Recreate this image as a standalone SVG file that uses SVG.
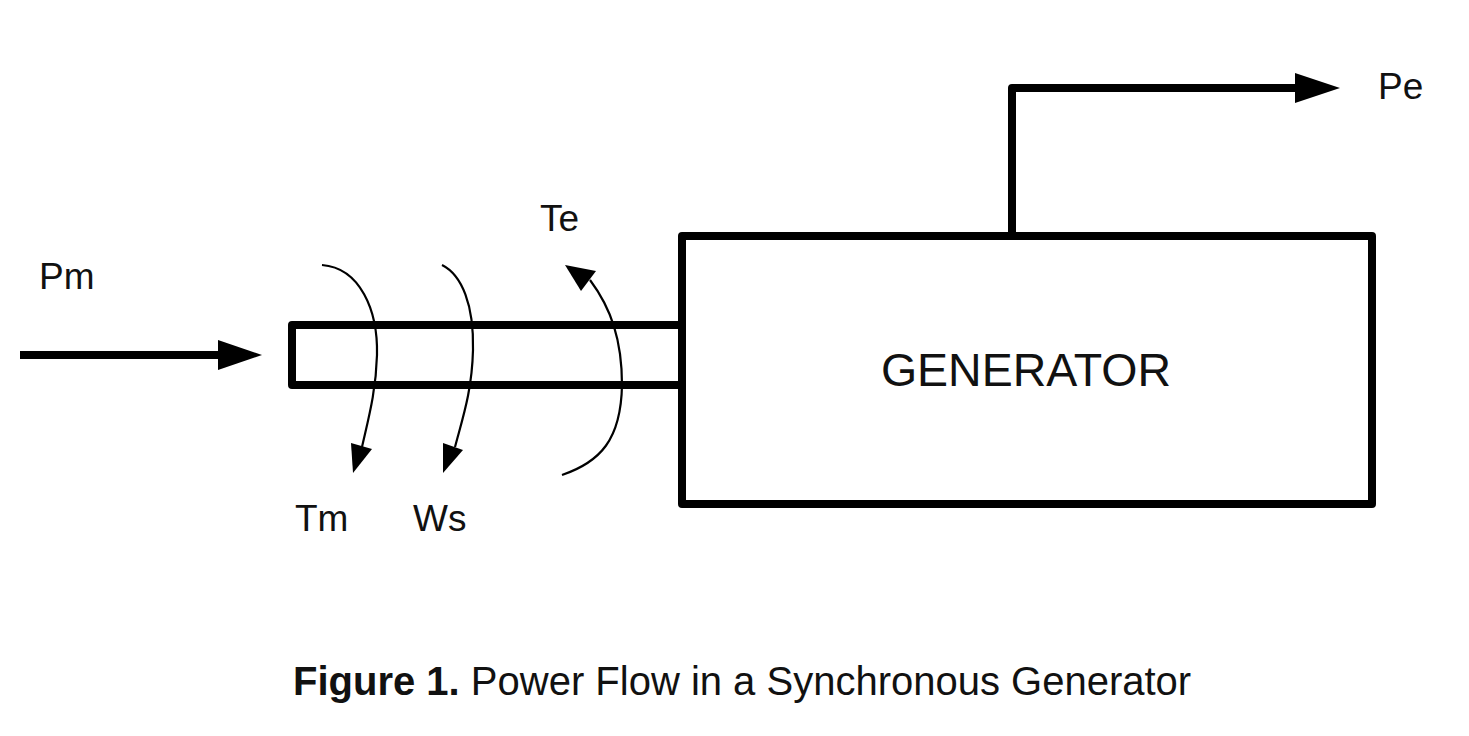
<svg xmlns="http://www.w3.org/2000/svg" width="1469" height="736" viewBox="0 0 1469 736">
<style>
.lbl{font-family:"Liberation Sans",Arial,sans-serif;font-size:37px;fill:#111}
.thick{fill:none;stroke:#000;stroke-width:8;stroke-linejoin:round}
.thin{fill:none;stroke:#000;stroke-width:2.2}
.cap{font-family:"Liberation Sans",Arial,sans-serif;font-size:40px;fill:#111}
</style>
<rect width="1469" height="736" fill="#fff"/>
<g id="generator">
<rect class="thick" x="682" y="236" width="690" height="268"/>
<text class="lbl" x="1026" y="386" text-anchor="middle" style="font-size:46.5px">GENERATOR</text>
</g>
<g id="shaft">
<path class="thick" d="M682,325 H292 V385 H682"/>
</g>
<g id="connectors">
<path class="thick" d="M20,355 H225"/>
<polygon points="218,340 262,355 218,370" fill="#000"/>
<path class="thick" d="M1012,236 V88 H1300"/>
<polygon points="1295,73 1340,88 1295,103" fill="#000"/>
<path class="thin" d="M322,265 C360,268 378,310 377,355 C376,392 368,420 362,447"/>
<polygon points="351,443 372,449 353,473" fill="#000"/>
<path class="thin" d="M442,265 C462,275 474,305 473,350 C472,392 462,420 455,447"/>
<polygon points="443,443 463,450 443,473" fill="#000"/>
<path class="thin" d="M562,475 C600,462 621,440 622,385 C622,340 611,308 590,280"/>
<polygon points="565,265 596,271 581,291" fill="#000"/>
</g>
<g id="labels">
<text class="lbl" x="39" y="289">Pm</text>
<text class="lbl" x="540" y="231">Te</text>
<text class="lbl" x="295" y="531">Tm</text>
<text class="lbl" x="413" y="531">Ws</text>
<text class="lbl" x="1378" y="99">Pe</text>
</g>
<text class="cap" x="293" y="695"><tspan font-weight="bold">Figure 1.</tspan> Power Flow in a Synchronous Generator</text>
</svg>
